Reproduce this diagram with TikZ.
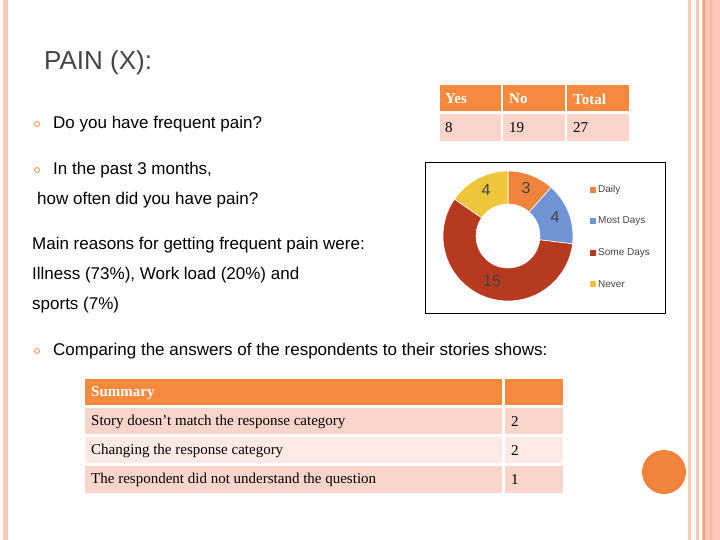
\documentclass[tikz,border=0pt]{standalone}
\usepackage{fontspec}
\setmainfont{Liberation Sans}
\newfontfamily\tabfont{Liberation Serif}
\definecolor{hdr}{HTML}{F58A3F}
\definecolor{cellA}{HTML}{FBD5CB}
\definecolor{cellB}{HTML}{FDEAE5}
\definecolor{strip}{HTML}{FBC8B6}
\definecolor{stripD}{HTML}{F0A070}
\definecolor{cDaily}{HTML}{F0843C}
\definecolor{cMost}{HTML}{6F93D4}
\definecolor{cSome}{HTML}{B53A20}
\definecolor{cNever}{HTML}{EEC63A}
\definecolor{txt}{HTML}{444444}
\newcommand\donutseg[3]{\fill[#1,draw=white,line width=0.6pt] (#2:65) arc[start angle=#2,end angle=#3,radius=65] -- (#3:32) arc[start angle=#3,end angle=#2,radius=32] -- cycle;}
\begin{document}
\begin{tikzpicture}[x=1pt,y=-1pt,
  body/.style={anchor=west,inner sep=0pt,font=\fontsize{17}{20}\selectfont},
  bul/.style={circle,draw=hdr,line width=0.8pt,minimum size=5pt,inner sep=0pt},
  htext/.style={anchor=west,inner sep=0pt,text=white,font=\tabfont\bfseries\fontsize{15}{17}\selectfont},
  ctext/.style={anchor=west,inner sep=0pt,font=\tabfont\fontsize{15}{17}\selectfont},
  leg/.style={anchor=west,inner sep=0pt,text=txt,font=\fontsize{10}{12}\selectfont},
  legbox/.style={minimum size=6pt,inner sep=0pt},
  num/.style={inner sep=0pt,text=txt,font=\fontsize{16}{18}\selectfont}]
\useasboundingbox (0,0) rectangle (720,540);
% side strips
\fill[strip] (3,0) rectangle (8,540);
\fill[strip] (688,0) rectangle (691,540);
\fill[strip] (696,0) rectangle (699,540);
\fill[strip] (702,0) rectangle (720,540);
\fill[stripD] (703,0) rectangle (704.5,540);
\fill[strip!70!stripD] (710,0) rectangle (712,540);
\node[circle,fill=cDaily,minimum size=44pt,inner sep=0pt] (dot) at (664,472) {};
% title
\node[anchor=west,inner sep=0pt,text=txt,font=\fontsize{26}{30}\selectfont] (title) at (44,63) {PAIN (X):};
% bullets
\node[bul] (b1) at (37,124) {};
\node[body] (t1) at (53,124) {Do you have frequent pain?};
\node[bul] (b2) at (37,170) {};
\node[body] (t2) at (53,170) {In the past 3 months,};
\node[body] (t3) at (37,200) {how often did you have pain?};
\node[body] (t4) at (32,245) {Main reasons for getting frequent pain were:};
\node[body] (t5) at (32,275) {Illness (73\%), Work load (20\%) and};
\node[body] (t6) at (32,305) {sports (7\%)};
\node[bul] (b3) at (37,351) {};
\node[body] (t7) at (53,351) {Comparing the answers of the respondents to their stories shows:};
% table 1
\fill[hdr] (440,85) rectangle (501,111);
\fill[hdr] (503,85) rectangle (565,111);
\fill[hdr] (567,85) rectangle (629,111);
\fill[cellA] (440,114) rectangle (501,141);
\fill[cellA] (503,114) rectangle (565,141);
\fill[cellA] (567,114) rectangle (629,141);
\node[htext] (h1) at (445,99) {Yes};
\node[htext] (h2) at (509,99) {No};
\node[htext] (h3) at (573,99) {Total};
\node[ctext] (c1) at (445,128) {8};
\node[ctext] (c2) at (509,128) {19};
\node[ctext] (c3) at (573,128) {27};
% chart
\node[draw=black,line width=0.8pt,minimum width=240pt,minimum height=151pt,inner sep=0pt] (chart) at (545,237.5) {};
\begin{scope}[shift={(508,236)},y=1pt]
\donutseg{cDaily}{90}{48.46}
\donutseg{cMost}{48.46}{-6.92}
\donutseg{cSome}{-6.92}{-214.62}
\donutseg{cNever}{-214.62}{-270}
\end{scope}
\node[num] (n1) at (526,188) {3};
\node[num] (n2) at (555,217) {4};
\node[num] (n3) at (492,281) {15};
\node[num] (n4) at (486,190) {4};
\node[legbox,fill=cDaily] (l1) at (593,190) {};
\node[legbox,fill=cMost] (l2) at (593,221) {};
\node[legbox,fill=cSome] (l3) at (593,253) {};
\node[legbox,fill=cNever] (l4) at (593,284) {};
\node[leg] (lt1) at (598,190) {Daily};
\node[leg] (lt2) at (598,221) {Most Days};
\node[leg] (lt3) at (598,253) {Some Days};
\node[leg] (lt4) at (598,284) {Never};
% summary table
\fill[hdr] (85,379) rectangle (502,405);
\fill[hdr] (505,379) rectangle (563,405);
\fill[cellA] (85,408) rectangle (502,434);
\fill[cellA] (505,408) rectangle (563,434);
\fill[cellB] (85,437) rectangle (502,463);
\fill[cellB] (505,437) rectangle (563,463);
\fill[cellA] (85,466) rectangle (502,493);
\fill[cellA] (505,466) rectangle (563,493);
\node[htext] (s0) at (91,393) {Summary};
\node[ctext] (s1) at (91,422) {Story doesn’t match the response category};
\node[ctext] (v1) at (511,422) {2};
\node[ctext] (s2) at (91,451) {Changing the response category};
\node[ctext] (v2) at (511,451) {2};
\node[ctext] (s3) at (91,480) {The respondent did not understand the question};
\node[ctext] (v3) at (511,480) {1};
\end{tikzpicture}
\end{document}
